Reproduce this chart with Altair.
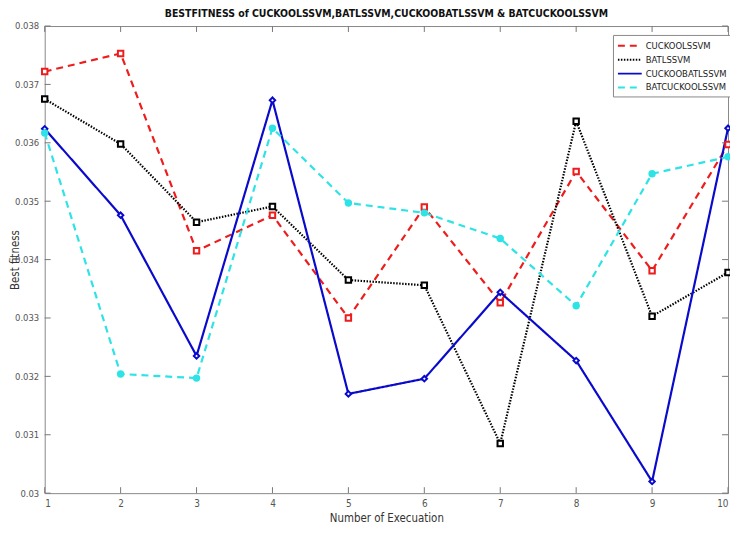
import altair as alt
import pandas as pd

executions = [1, 2, 3, 4, 5, 6, 7, 8, 9, 10]
series_names = ["CUCKOOLSSVM", "BATLSSVM", "CUCKOOBATLSSVM", "BATCUCKOOLSSVM"]
cuckoo = [0.03722, 0.03753, 0.03415, 0.03476, 0.03300, 0.03490, 0.03326, 0.03551, 0.03381, 0.03597]
bat = [0.03675, 0.03598, 0.03464, 0.03491, 0.03365, 0.03356, 0.03085, 0.03637, 0.03303, 0.03378]
cuckoobat = [0.03624, 0.03476, 0.03235, 0.03673, 0.03170, 0.03196, 0.03344, 0.03227, 0.03020, 0.03625]
batcuckoo = [0.03617, 0.03204, 0.03197, 0.03625, 0.03497, 0.03480, 0.03436, 0.03321, 0.03547, 0.03576]
y_ticks = [0.030, 0.031, 0.032, 0.033, 0.034, 0.035, 0.036, 0.037, 0.038]

colors = ["#ee1c1c", "#000000", "#0a0acc", "#2ee3e6"]
dashes = [[7, 5], [1.5, 1.5], [1, 0], [7, 5]]
shapes = ["square", "square", "diamond", "circle"]
fills = ["white", "white", "white", "#2ee3e6"]

rows = []
for name, vals in zip(series_names, [cuckoo, bat, cuckoobat, batcuckoo]):
    for x, v in zip(executions, vals):
        rows.append({"exec": x, "fitness": v, "series": name})
df = pd.DataFrame(rows)

W, H = 689, 471
FONT = "DejaVu Sans Condensed, Liberation Sans Narrow, Arial Narrow, Liberation Sans"

xscale = alt.Scale(domain=[1, 10], nice=False, zero=False)
yscale = alt.Scale(domain=[0.030, 0.038], nice=False, zero=False)

x_enc = alt.X("exec:Q", scale=xscale,
              axis=alt.Axis(title="Number of Execuation", values=executions, format="d",
                            tickSize=0, labelPadding=5, titlePadding=5, domain=False, grid=False))
y_enc = alt.Y("fitness:Q", scale=yscale,
              axis=alt.Axis(title="Best fitness", values=y_ticks, format="~g",
                            tickSize=0, labelPadding=6, domain=False, grid=False,
                            titleX=-29, titleBaseline="middle", labelFontSize=9.5))

color = alt.Color("series:N", scale=alt.Scale(domain=series_names, range=colors),
                  legend=alt.Legend(title=None, orient="none", legendX=573, legendY=9,
                                    symbolType="M-1,0L3,0", symbolSize=144, symbolStrokeWidth=2,
                                    labelFont=FONT, labelFontSize=9.5, labelColor="#222",
                                    strokeColor="#888", fillColor="white", padding=4,
                                    rowPadding=2, labelOffset=15, labelLimit=200))
dash = alt.StrokeDash("series:N", scale=alt.Scale(domain=series_names, range=dashes), legend=None)

lines = alt.Chart(df).mark_line(strokeWidth=2.2).encode(
    x=x_enc, y=y_enc, color=color, strokeDash=dash, order="exec:Q")

points = alt.Chart(df).mark_point(size=30, strokeWidth=2, opacity=1).encode(
    x="exec:Q", y="fitness:Q",
    stroke=alt.Stroke("series:N", scale=alt.Scale(domain=series_names, range=colors), legend=None),
    fill=alt.Fill("series:N", scale=alt.Scale(domain=series_names, range=fills), legend=None),
    shape=alt.Shape("series:N", scale=alt.Scale(domain=series_names, range=shapes), legend=None))

ydf = pd.DataFrame({"fitness": y_ticks})
xdf = pd.DataFrame({"exec": executions})
tick_col = "#777"
yl = alt.Chart(ydf).mark_rule(color=tick_col).encode(y="fitness:Q", x=alt.value(0), x2=alt.value(6))
yr = alt.Chart(ydf).mark_rule(color=tick_col).encode(y="fitness:Q", x=alt.value(W - 6), x2=alt.value(W))
xb = alt.Chart(xdf).mark_rule(color=tick_col).encode(x="exec:Q", y=alt.value(H - 6), y2=alt.value(H))
xt = alt.Chart(xdf).mark_rule(color=tick_col).encode(x="exec:Q", y=alt.value(0), y2=alt.value(6))

chart = alt.layer(lines, yl, yr, xb, xt, points).resolve_scale(
    stroke="independent", fill="independent", shape="independent"
).properties(
    width=W, height=H,
    title=alt.TitleParams("BESTFITNESS of CUCKOOLSSVM,BATLSSVM,CUCKOOBATLSSVM & BATCUCKOOLSSVM",
                          font=FONT, fontSize=10.5, fontWeight="bold", color="#111", offset=2),
    autosize=alt.AutoSizeParams(type="none"),
    padding={"left": 37, "top": 16, "right": 2, "bottom": 37},
    background="white",
).configure_view(stroke="#888", strokeWidth=1).configure_axis(
    labelFont=FONT, labelFontSize=10, labelColor="#555",
    titleFont=FONT, titleFontSize=11.5, titleColor="#333", titleFontWeight="normal", grid=False
)

chart.save("out.html", embed_options={"renderer": "svg", "actions": False})
